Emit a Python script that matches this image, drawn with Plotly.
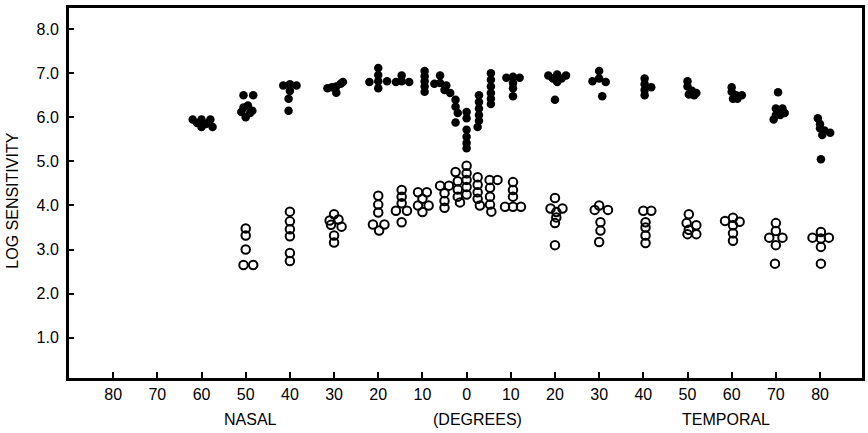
import plotly.graph_objects as go

# Eccentricity in degrees (nasal negative, temporal positive) and log sensitivity
filled_deg = [
    -62, -60, -58, -61, -59, -57.5, -60,
    -50.5, -48.3, -50.5, -49.5, -51, -49, -50, -48.5,
    -41.5, -40, -38.5, -40, -40.3, -40.3,
    -31.5, -29.5, -28, -29.5, -30.5, -28.5,
    -20, -20, -20, -20, -22, -18,
    -16, -14.7, -14.7, -13,
    -9.5, -9.5, -9.5, -9.5, -9.5,
    -6, -6, -7.3, -4.6, -5,
    -3.7, -2.5, -2.5, -2, -2.5,
    0, 0, 0, 0, 0, 0,
    2.8, 2.8, 2.8, 2.8, 2.8, 2.5,
    5.5, 5.5, 5.5, 5.5, 5.5, 5.5,
    9, 10.5, 12, 10.5, 10.5, 10.5,
    18.5, 20.5, 22.5, 19.5, 21.5, 20.5, 20,
    30, 28.5, 31.5, 30, 30.7,
    40.3, 40.3, 40.3, 40.3, 41.8,
    50, 50, 51, 52, 50.3, 51.5,
    60, 60, 61, 62.3, 61.3, 60.3,
    70.5, 70, 71.5, 72, 70, 69.5, 71,
    79.5, 80, 80, 81, 82.3, 80.5, 80.2,
]
filled_logsens = [
    5.95, 5.95, 5.95, 5.87, 5.85, 5.78, 5.78,
    6.5, 6.5, 6.22, 6.27, 6.12, 6.1, 6.0, 6.15,
    6.72, 6.75, 6.72, 6.6, 6.42, 6.15,
    6.66, 6.7, 6.8, 6.56, 6.68, 6.76,
    7.12, 6.96, 6.82, 6.66, 6.8, 6.82,
    6.8, 6.95, 6.82, 6.8,
    7.05, 6.93, 6.82, 6.7, 6.58,
    6.95, 6.78, 6.76, 6.72, 6.62,
    6.55, 6.4, 6.24, 6.1, 5.88,
    6.12, 5.98, 5.72, 5.56, 5.42, 5.3,
    6.5, 6.35, 6.2, 6.05, 5.92, 5.78,
    7.0, 6.85, 6.7, 6.55, 6.42, 6.3,
    6.9, 6.92, 6.9, 6.78, 6.66, 6.48,
    6.95, 6.97, 6.95, 6.88, 6.88, 6.8, 6.4,
    7.05, 6.82, 6.8, 6.88, 6.48,
    6.88, 6.75, 6.62, 6.5, 6.68,
    6.82, 6.7, 6.6, 6.55, 6.52, 6.5,
    6.68, 6.58, 6.5, 6.5, 6.42, 6.42,
    6.57, 6.2, 6.2, 6.1, 6.05, 5.95, 6.05,
    5.98, 5.85, 5.75, 5.7, 5.65, 5.6, 5.05,
]

open_deg = [
    -50, -50, -50, -50.5, -48.3,
    -40, -40, -40, -40, -40, -40,
    -30, -31, -29, -28.3, -30.7, -30, -30,
    -20, -20, -20, -21.2, -18.6, -19.8,
    -14.7, -14.7, -14.7, -16, -13.5, -14.7,
    -11, -9, -10, -11, -8.6, -10,
    -6, -4, -5, -5, -5,
    -2.5, 0, 0, 0, 0, -2, -2, -2, -1.5, 0, 2.5, 2.5, 2.5, 2.5, 3,
    5.2, 7, 5.3, 5.3, 5.3, 5.6,
    10.5, 10.5, 10.5, 8.7, 10.5, 12.3,
    20, 19, 21.7, 20.3, 20.3, 20, 20,
    30, 29, 32, 30.3, 30.3, 30,
    40, 41.8, 40.5, 40.5, 40.5, 40.5,
    50.3, 49.8, 52, 50.3, 50, 52,
    58.5, 61.8, 60.3, 60.3, 60.3, 60.3,
    70, 70, 68.5, 71.5, 70, 69.8,
    80.2, 78.3, 82, 80.2, 80.2, 80.2,
]
open_logsens = [
    3.48, 3.32, 3.0, 2.65, 2.65,
    3.86, 3.64, 3.46, 3.3, 2.92, 2.74,
    3.8, 3.66, 3.68, 3.52, 3.56, 3.32, 3.16,
    4.22, 4.02, 3.84, 3.57, 3.57, 3.43,
    4.35, 4.2, 4.05, 3.88, 3.88, 3.62,
    4.3, 4.3, 4.15, 4.0, 4.0, 3.85,
    4.45, 4.45, 4.28, 4.1, 3.95,
    4.76, 4.9, 4.73, 4.58, 4.42, 4.55, 4.36, 4.2, 4.07, 4.25, 4.64, 4.47, 4.3, 4.15, 4.0,
    4.58, 4.58, 4.4, 4.2, 4.02, 3.86,
    4.53, 4.35, 4.2, 3.97, 3.97, 3.97,
    4.17, 3.93, 3.93, 3.85, 3.73, 3.6, 3.1,
    4.0, 3.9, 3.9, 3.62, 3.43, 3.17,
    3.88, 3.88, 3.62, 3.5, 3.32, 3.15,
    3.8, 3.6, 3.55, 3.45, 3.35, 3.35,
    3.65, 3.63, 3.72, 3.55, 3.37, 3.2,
    3.6, 3.42, 3.27, 3.27, 3.1, 2.68,
    3.4, 3.27, 3.27, 3.25, 3.06, 2.68,
]

x_tickvals = [-80, -70, -60, -50, -40, -30, -20, -10, 0, 10, 20, 30, 40, 50, 60, 70, 80]
x_ticktext = ["80", "70", "60", "50", "40", "30", "20", "10", "0", "10", "20", "30", "40", "50", "60", "70", "80"]
y_tickvals = [1, 2, 3, 4, 5, 6, 7, 8]
y_ticktext = ["1.0", "2.0", "3.0", "4.0", "5.0", "6.0", "7.0", "8.0"]

FONT = "Liberation Sans, Arial, sans-serif"
FS = 16

fig = go.Figure()
fig.add_trace(go.Scatter(
    x=open_deg, y=open_logsens, mode="markers",
    marker=dict(symbol="circle-open", size=8.5, color="black", line=dict(width=2, color="black")),
    showlegend=False, hoverinfo="skip",
))
fig.add_trace(go.Scatter(
    x=filled_deg, y=filled_logsens, mode="markers",
    marker=dict(symbol="circle", size=8.5, color="black", line=dict(width=0)),
    showlegend=False, hoverinfo="skip",
))

fig.update_layout(
    width=868, height=433,
    margin=dict(l=69, r=3, t=8, b=55),
    paper_bgcolor="white", plot_bgcolor="white",
    font=dict(family=FONT, size=FS, color="black"),
    xaxis=dict(
        range=[-90, 89.5], tickvals=x_tickvals, ticktext=x_ticktext,
        ticks="inside", ticklen=6, tickwidth=1.5, tickcolor="black",
        showline=True, linecolor="black", linewidth=3, mirror=True,
        showgrid=False, zeroline=False, fixedrange=True,
        tickfont=dict(family=FONT, size=FS, color="black"),
    ),
    yaxis=dict(
        range=[0.086, 8.48], tickvals=y_tickvals, ticktext=y_ticktext,
        ticks="inside", ticklen=5, tickwidth=1.5, tickcolor="black",
        showline=True, linecolor="black", linewidth=3, mirror=True,
        showgrid=False, zeroline=False, fixedrange=True,
        tickfont=dict(family=FONT, size=FS, color="black"),
        ticklabelstandoff=4,
    ),
    annotations=[
        dict(text="LOG SENSITIVITY", xref="paper", yref="paper", x=-0.0715, y=0.48,
             textangle=-90, showarrow=False, xanchor="center", yanchor="middle",
             font=dict(family=FONT, size=FS, color="black")),
        dict(text="NASAL", xref="x", yref="paper", x=-49, y=-0.1135,
             showarrow=False, xanchor="center", yanchor="middle",
             font=dict(family=FONT, size=FS, color="black")),
        dict(text="(DEGREES)", xref="x", yref="paper", x=2.4, y=-0.1135,
             showarrow=False, xanchor="center", yanchor="middle",
             font=dict(family=FONT, size=FS, color="black")),
        dict(text="TEMPORAL", xref="x", yref="paper", x=58.8, y=-0.1135,
             showarrow=False, xanchor="center", yanchor="middle",
             font=dict(family=FONT, size=FS, color="black")),
    ],
)

fig.write_html("out.html")
